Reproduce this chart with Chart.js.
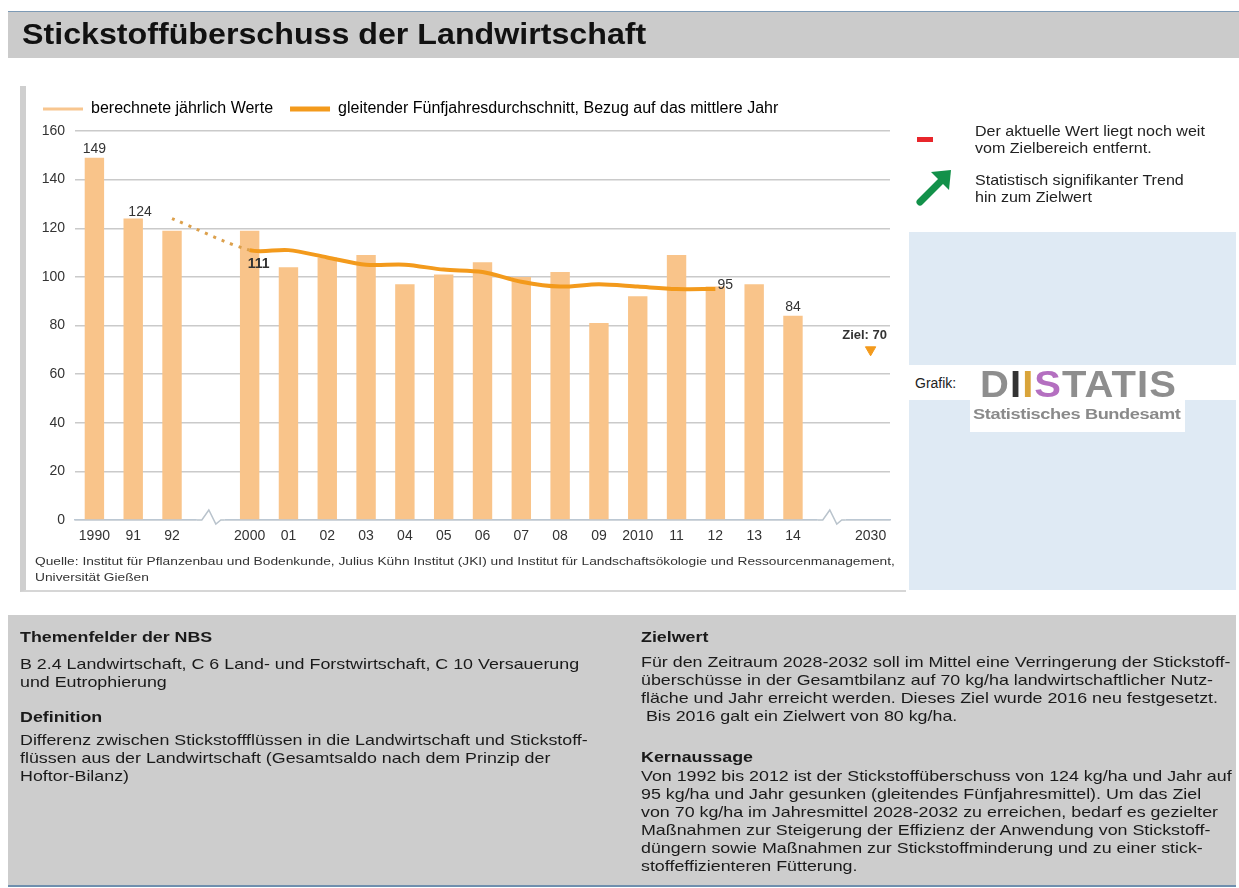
<!DOCTYPE html>
<html lang="de">
<head>
<meta charset="utf-8">
<script src="https://cdn.jsdelivr.net/npm/chart.js@4/dist/chart.umd.min.js"></script>
<style>
  body { margin: 0; width: 1239px; height: 888px; background: #fff; font-family: "Liberation Sans", Arial, sans-serif; color: #1a1a1a; position: relative; overflow: hidden; }
  .abs { position: absolute; }
  .wide { transform-origin: 0 0; white-space: nowrap; }
  #titlebar { left: 8px; top: 11px; width: 1231px; height: 46px; background: #cbcbcb; border-top: 1px solid #7d9ab5; }
  #titlebar h1 { margin: 0; position: absolute; left: 14px; top: 6px; font-size: 29px; font-weight: bold; color: #111; transform: scaleX(1.11); transform-origin: 0 0; white-space: nowrap; }
  #panel { left: 20px; top: 86px; width: 880px; height: 504px; background: #fff; border-left: 6px solid #cfcfcf; border-bottom: 2px solid #d6d6d6; }
  #chartbox { left: 26px; top: 84px; width: 874px; height: 466px; }
  #source { left: 35px; top: 553px; font-size: 11px; line-height: 16px; color: #333; transform: scaleX(1.25); }
  .note { font-size: 15px; line-height: 17px; color: #222; transform: scaleX(1.07); }
  #bluebox { left: 909px; top: 232px; width: 327px; height: 358px; background: #dfeaf4; }
  #stripe { left: 909px; top: 365px; width: 327px; height: 35px; background: #fff; }
  #logo { left: 970px; top: 365px; width: 215px; height: 67px; background: #fff; }
  #bottom { left: 8px; top: 615px; width: 1228px; height: 270px; background: #cdcdcd; border-bottom: 2px solid #6f8fae; }
  .col { font-size: 14.5px; line-height: 18px; color: #1a1a1a; transform: scaleX(1.23); }
  .col b { display: block; }
</style>
</head>
<body>
<div id="titlebar" class="abs"><h1>Stickstoffüberschuss der Landwirtschaft</h1></div>
<div id="panel" class="abs"></div>
<div id="chartbox" class="abs"><canvas id="chart"></canvas></div>
<div id="source" class="abs wide">Quelle: Institut für Pflanzenbau und Bodenkunde, Julius Kühn Institut (JKI) und Institut für Landschaftsökologie und Ressourcenmanagement,<br>Universität Gießen</div>

<div class="abs" style="left:917px;top:137px;width:16px;height:5px;background:#e8262b;"></div>
<div class="abs note wide" style="left:975px;top:122px;">Der aktuelle Wert liegt noch weit<br>vom Zielbereich entfernt.</div>
<svg class="abs" style="left:914px;top:166px;" width="40" height="42" viewBox="0 0 40 42">
  <line x1="6" y1="36" x2="28" y2="14" stroke="#12914a" stroke-width="7" stroke-linecap="round"/>
  <polygon points="17,6 37,4 35,24" fill="#12914a"/>
</svg>
<div class="abs note wide" style="left:975px;top:171px;">Statistisch signifikanter Trend<br>hin zum Zielwert</div>

<div id="bluebox" class="abs"></div>
<div id="stripe" class="abs"></div>
<div id="logo" class="abs"></div>
<div class="abs" style="left:915px;top:375px;font-size:14px;color:#222;">Grafik:</div>
<div class="abs wide" style="left:980px;top:364px;font-size:37px;font-weight:bold;color:#8e8e8e;letter-spacing:1px;filter:blur(0.7px);transform:scaleX(1.08);">D<span style="color:#333;">I</span><span style="color:#d9a43a;">I</span><span style="color:#b46fc0;">S</span>TATIS</div>
<div class="abs wide" style="left:973px;top:406px;font-size:14px;font-weight:bold;color:#8a8a8a;letter-spacing:-0.3px;filter:blur(0.5px);transform:scaleX(1.3);">Statistisches Bundesamt</div>

<div id="bottom" class="abs"></div>
<div class="abs col wide" style="left:20px;top:628px;">
  <b>Themenfelder der NBS</b>
  <div style="margin-top:9px;">B 2.4 Landwirtschaft, C 6 Land- und Forstwirtschaft, C 10 Versauerung<br>und Eutrophierung</div>
  <b style="margin-top:17px;">Definition</b>
  <div style="margin-top:5px;">Differenz zwischen Stickstoffflüssen in die Landwirtschaft und Stickstoff-<br>flüssen aus der Landwirtschaft (Gesamtsaldo nach dem Prinzip der<br>Hoftor-Bilanz)</div>
</div>
<div class="abs col wide" style="left:641px;top:628px;">
  <b>Zielwert</b>
  <div style="margin-top:7px;">Für den Zeitraum 2028-2032 soll im Mittel eine Verringerung der Stickstoff-<br>überschüsse in der Gesamtbilanz auf 70 kg/ha landwirtschaftlicher Nutz-<br>fläche und Jahr erreicht werden. Dieses Ziel wurde 2016 neu festgesetzt.<br>&nbsp;Bis 2016 galt ein Zielwert von 80 kg/ha.</div>
</div>
<div class="abs col wide" style="left:641px;top:748px;">
  <b>Kernaussage</b>
  <div style="margin-top:1px;">Von 1992 bis 2012 ist der Stickstoffüberschuss von 124 kg/ha und Jahr auf<br>95 kg/ha und Jahr gesunken (gleitendes Fünfjahresmittel). Um das Ziel<br>von 70 kg/ha im Jahresmittel 2028-2032 zu erreichen, bedarf es gezielter<br>Maßnahmen zur Steigerung der Effizienz der Anwendung von Stickstoff-<br>düngern sowie Maßnahmen zur Stickstoffminderung und zu einer stick-<br>stoffeffizienteren Fütterung.</div>
</div>

<script>
// categories (empty strings = axis breaks)
const years = ["1990", "91", "92", "", "2000", "01", "02", "03", "04", "05", "06", "07", "08", "09", "2010", "11", "12", "13", "14", "", "2030"];
// kg/ha, calculated yearly values
const annual = [149, 124, 119, null, 119, 104, 108, 109, 97, 101, 106, 100, 102, 81, 92, 109, 96, 97, 84, null, null];
// moving five-year average, related to the middle year
const avg5 = [null, null, 124, null, 111, 111, 108, 105, 105, 103, 102, 98, 96, 97, 96, 95, 95, null, null, null, null];
// target value 2030
const target = [null, null, null, null, null, null, null, null, null, null, null, null, null, null, null, null, null, null, null, null, 70];
const yTicks = [0, 20, 40, 60, 80, 100, 120, 140, 160];

const barColor = "#f9c48a";
const lineColor = "#f39a1c";
const breakIdx = [3, 19];

// labels printed on the chart: [dataset, index, text, position]
const marks = [
  ["annual", 0, "149", "above"],
  ["annual", 18, "84", "above"],
  ["avg5", 2, "124", "left"],
  ["avg5", 4, "111", "below"],
  ["avg5", 16, "95", "right"],
  ["target", 20, "Ziel: 70", "above"]
];

// a bit more room between legend and plot
const legendGap = {
  id: "legendGap",
  beforeInit(chart) {
    const fit = chart.legend.fit;
    chart.legend.fit = function () {
      fit.call(this);
      this.height += 4;
    };
  }
};

const axisBreaks = {
  id: "axisBreaks",
  afterDraw(chart) {
    const {ctx, scales: {x, y}} = chart;
    const y0 = y.getPixelForValue(0);
    ctx.save();
    breakIdx.forEach(i => {
      const cx = x.getPixelForValue(i);
      ctx.fillStyle = "#fff";
      ctx.fillRect(cx - 14, y0 - 2, 28, 5);
      ctx.strokeStyle = "#b9c3cc";
      ctx.lineWidth = 1.5;
      ctx.beginPath();
      ctx.moveTo(cx - 14, y0);
      ctx.lineTo(cx - 9, y0);
      ctx.lineTo(cx - 2, y0 - 10);
      ctx.lineTo(cx + 5, y0 + 4);
      ctx.lineTo(cx + 10, y0);
      ctx.lineTo(cx + 14, y0);
      ctx.stroke();
    });
    ctx.restore();
  }
};

const valueLabels = {
  id: "valueLabels",
  afterDatasetsDraw(chart) {
    const {ctx, scales: {x, y}} = chart;
    const src = {annual: annual, avg5: avg5, target: target};
    ctx.save();
    marks.forEach(m => {
      const v = src[m[0]][m[1]];
      const px = x.getPixelForValue(m[1]);
      const py = y.getPixelForValue(v);
      ctx.fillStyle = "#333";
      ctx.font = "14px 'Liberation Sans', Arial, sans-serif";
      ctx.textBaseline = "middle";
      ctx.textAlign = "center";
      if (m[3] === "above") {
        if (m[0] === "target") {
          ctx.font = "bold 13px 'Liberation Sans', Arial, sans-serif";
          ctx.fillText(m[2], px - 6, py - 14);
        } else {
          ctx.fillText(m[2], px, py - 9);
        }
      } else if (m[3] === "below") {
        ctx.font = "bold 14px 'Liberation Sans', Arial, sans-serif";
        ctx.fillText(m[2], px + 9, py + 14);
      } else if (m[3] === "left") {
        ctx.fillText(m[2], px - 32, py - 6);
      } else {
        ctx.fillText(m[2], px + 10, py - 4);
      }
    });
    ctx.restore();
  }
};

new Chart(document.getElementById("chart"), {
  data: {
    labels: years,
    datasets: [
      {
        type: "line",
        label: "gleitender Fünfjahresdurchschnitt, Bezug auf das mittlere Jahr",
        data: avg5,
        borderColor: lineColor,
        borderWidth: 4,
        tension: 0.3,
        spanGaps: true,
        pointRadius: 0,
        segment: {
          borderDash: c => c.p1DataIndex === 4 ? [3, 6] : undefined,
          borderWidth: c => c.p1DataIndex === 4 ? 3 : undefined,
          borderColor: c => c.p1DataIndex === 4 ? "#dca04c" : undefined
        },
        order: 0
      },
      {
        type: "line",
        label: "Ziel",
        data: target,
        showLine: false,
        pointStyle: "triangle",
        rotation: 180,
        pointRadius: 6,
        backgroundColor: lineColor,
        borderColor: lineColor,
        order: 0
      },
      {
        type: "bar",
        label: "berechnete jährlich Werte",
        data: annual,
        backgroundColor: barColor,
        barPercentage: 0.5,
        categoryPercentage: 1,
        order: 1
      }
    ]
  },
  options: {
    responsive: true,
    maintainAspectRatio: false,
    animation: false,
    layout: { padding: { left: 0, right: 10, top: 0, bottom: 0 } },
    plugins: {
      tooltip: { enabled: false },
      legend: {
        position: "top",
        align: "start",
        labels: {
          usePointStyle: true,
          pointStyleWidth: 40,
          padding: 17,
          color: "#444",
          font: { family: "'Liberation Sans', Arial, sans-serif", size: 16 },
          generateLabels: chart => [
            { text: "berechnete jährlich Werte", pointStyle: "line", lineWidth: 3, strokeStyle: "#f8c68f", fillStyle: "#f8c68f", datasetIndex: 2 },
            { text: "gleitender Fünfjahresdurchschnitt, Bezug auf das mittlere Jahr", pointStyle: "line", lineWidth: 5, strokeStyle: lineColor, fillStyle: lineColor, datasetIndex: 0 }
          ]
        }
      }
    },
    scales: {
      x: {
        grid: { display: false, drawTicks: false },
        border: { display: true, color: "#bcc8d3", width: 1.5 },
        ticks: {
          color: "#333",
          padding: 8,
          maxRotation: 0,
          autoSkip: false,
          font: { family: "'Liberation Sans', Arial, sans-serif", size: 14 }
        },
        afterFit: s => { s.height = 30; }
      },
      y: {
        min: 0,
        max: 160,
        afterBuildTicks: s => { s.ticks = yTicks.map(v => ({value: v})); },
        grid: { color: "#cacaca", lineWidth: 1.5, drawTicks: false },
        border: { display: false },
        ticks: {
          color: "#333",
          padding: 10,
          font: { family: "'Liberation Sans', Arial, sans-serif", size: 14 }
        },
        afterFit: s => { s.width = 49; }
      }
    }
  },
  plugins: [legendGap, axisBreaks, valueLabels]
});
</script>
</body>
</html>
